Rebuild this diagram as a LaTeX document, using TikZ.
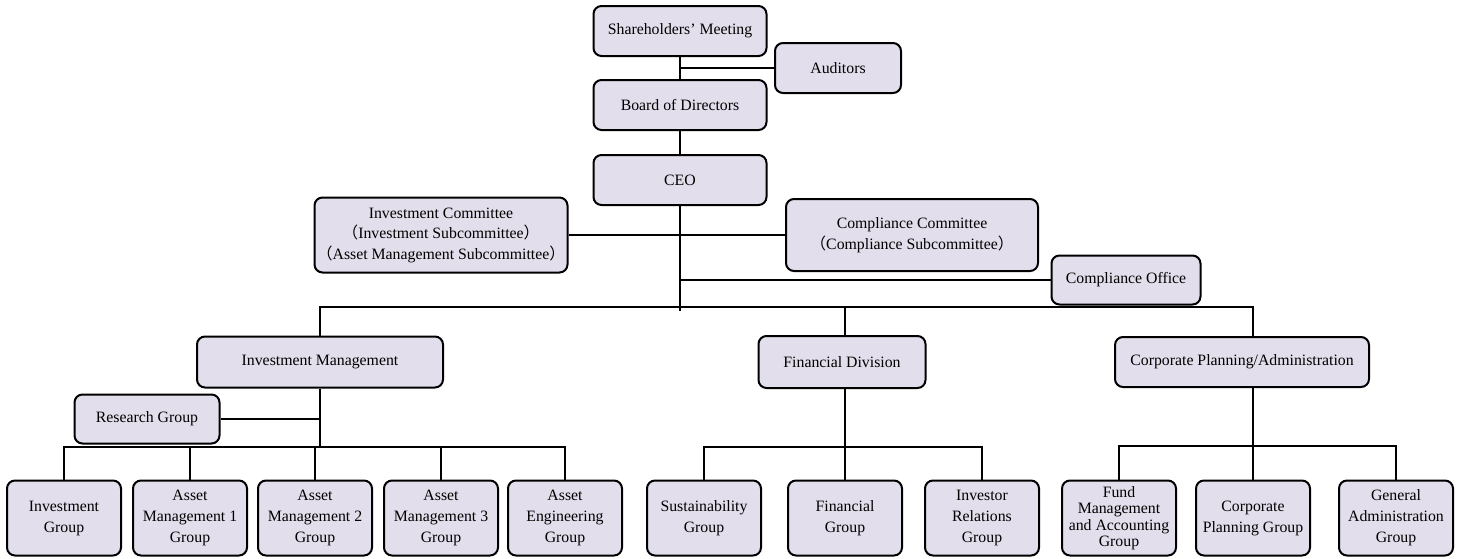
\documentclass[tikz,border=0pt]{standalone}
\usepackage{fontspec}
\setmainfont{Liberation Serif}
\newfontfamily\cjk{Noto Sans CJK JP}
\usetikzlibrary{positioning}
\definecolor{boxfill}{HTML}{E3DEEB}
\newcommand{\lpar}{{\cjk （}}
\newcommand{\rpar}{{\cjk ）}}

\begin{document}
\begin{tikzpicture}[x=1pt,y=1pt,on grid,
  box/.style={draw,line width=2pt,rounded corners=8pt,fill=boxfill,align=center,
    inner sep=0pt,minimum width=114pt,minimum height=75pt,
    font=\fontsize{15.8}{21}\selectfont},
  wide/.style={minimum width=173pt,minimum height=50pt},
  line/.style={line width=2pt}]
\useasboundingbox (0,0) rectangle (1466,-558);

% top of the chart
\node[box,wide] (share) at (680,-31) {Shareholders’ Meeting};
\node[box,wide] (board) [below=74pt of share] {Board of Directors};
\node[box,minimum width=126pt,minimum height=50pt] (aud) [below right=37pt and 158pt of share] {Auditors};
\node[box,wide] (ceo) [below=75pt of board] {CEO};
\node[box,minimum width=253pt,minimum height=75pt,font=\fontsize{15.8}{20.5}\selectfont] (invcom) [below left=55pt and 239pt of ceo]
  {Investment Committee\\\lpar Investment Subcommittee\rpar\\\lpar Asset Management Subcommittee\rpar};
\node[box,minimum width=252pt,minimum height=72pt,font=\fontsize{15.8}{20.5}\selectfont] (comcom) [below right=55pt and 232pt of ceo]
  {Compliance Committee\\\lpar Compliance Subcommittee\rpar};
\node[box,minimum width=149pt,minimum height=49pt] (comoff) [below right=100pt and 446pt of ceo] {Compliance Office};
\coordinate[below=127pt of ceo] (split);

% divisions
\node[box,minimum width=246pt,minimum height=51pt] (invm) [below left=182pt and 360pt of ceo] {Investment Management};
\node[box,minimum width=167pt,minimum height=52pt] (findiv) [right=522pt of invm] {Financial Division};
\node[box,minimum width=254pt,minimum height=50pt] (cpa) [right=400pt of findiv] {Corporate Planning/Administration};

% investment management groups
\node[box,minimum width=145pt,minimum height=49pt] (research) [below left=57pt and 173pt of invm] {Research Group};
\node[box] (invg) [below left=156pt and 256pt of invm] {Investment\\Group};
\node[box] (am1) [right=126pt of invg] {Asset\\Management 1\\Group};
\node[box] (am2) [right=125pt of am1] {Asset\\Management 2\\Group};
\node[box] (am3) [right=126pt of am2] {Asset\\Management 3\\Group};
\node[box] (aeng) [right=124pt of am3] {Asset\\Engineering\\Group};
\coordinate[below=85pt of invm] (invbar);

% financial division groups
\node[box] (sust) [below left=156pt and 138pt of findiv] {Sustainability\\Group};
\node[box] (fing) [right=141pt of sust] {Financial\\Group};
\node[box] (ir) [right=137pt of fing] {Investor\\Relations\\Group};
\coordinate[below=85pt of findiv] (finbar);

% corporate planning groups
\node[box,font=\fontsize{15.8}{16.5}\selectfont] (fund) [below left=156pt and 123pt of cpa] {Fund\\Management\\and Accounting\\Group};
\node[box] (cpg) [right=134pt of fund] {Corporate\\Planning Group};
\node[box] (gen) [right=143pt of cpg] {General\\Administration\\Group};
\coordinate[below=84pt of cpa] (cpabar);

% connectors
\draw[line] (share) -- (board);
\draw[line] (aud.west) -- (aud.west -| share);
\draw[line] (board) -- (ceo);
\draw[line] (ceo) -- ([yshift=-4pt]split);
\draw[line] (invcom.east) -- (invcom.east -| ceo);
\draw[line] (comcom.west) -- (comcom.west -| ceo);
\draw[line] (comoff.west) -- (comoff.west -| ceo);
\draw[line] (invm.north) |- (split) -| (cpa.north -| cpg);
\draw[line] (findiv.north -| fing) -- (split -| fing);

\draw[line] (invm) -- (invbar);
\draw[line] (research.east) -- (research.east -| invm);
\draw[line] (invg.north) |- (invbar) -| (aeng.north);
\foreach \g in {am1,am2,am3}
  \draw[line] (\g.north) -- (\g.north |- invbar);

\draw[line] (findiv.south -| fing) -- (fing.north);
\draw[line] (sust.north) |- (finbar) -| (ir.north);

\draw[line] (cpa.south -| cpg) -- (cpg.north);
\draw[line] (fund.north) |- (cpabar) -| (gen.north);
\end{tikzpicture}
\end{document}
